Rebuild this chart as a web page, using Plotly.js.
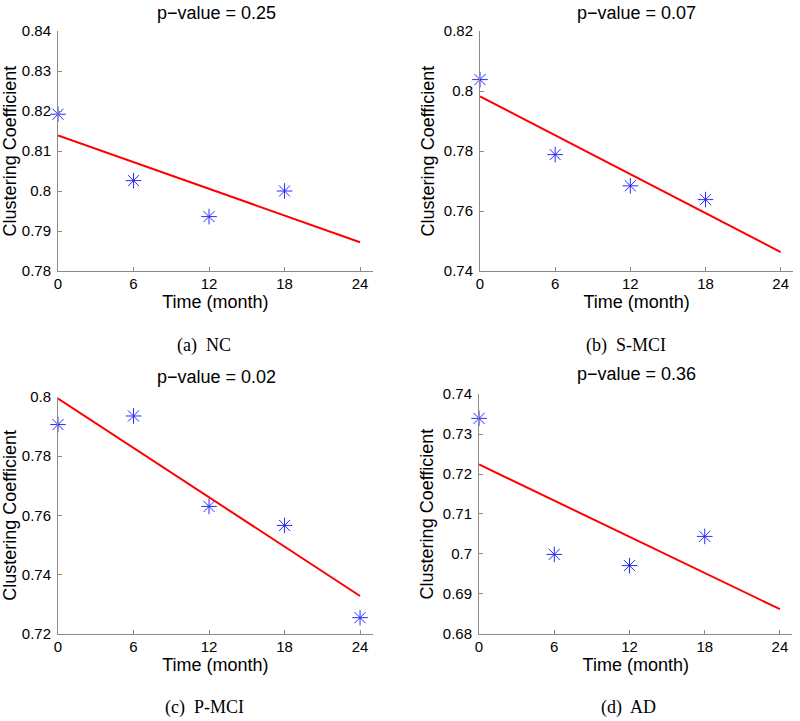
<!DOCTYPE html>
<html>
<head>
<meta charset="utf-8">
<script src="https://cdn.plot.ly/plotly-3.0.1.min.js"></script>
<style>html,body{margin:0;padding:0;background:#fff;}#chart{width:800px;height:721px;}</style>
</head>
<body>
<div id="chart"></div>
<script>
// ---- data ----
const monthsShort = [0, 6, 12, 18];
const monthsLong = [0, 6, 12, 18, 24];
const fitMonths = [0, 24];

const ncValues   = [0.8192, 0.8026, 0.7936, 0.8000];
const smciValues = [0.8038, 0.7788, 0.7684, 0.7638];
const pmciValues = [0.7906, 0.7935, 0.7630, 0.7566, 0.7255];
const adValues   = [0.7339, 0.6999, 0.6971, 0.7044];

const ncFit   = [0.8139, 0.7872];
const smciFit = [0.7982, 0.7463];
const pmciFit = [0.7994, 0.7328];
const adFit   = [0.7224, 0.6862];

const pValues = ["0.25", "0.07", "0.02", "0.36"];
const captions = ["(a)\u00a0 NC", "(b)\u00a0 S-MCI", "(c)\u00a0 P-MCI", "(d)\u00a0 AD"];

const xTickVals = [0, 6, 12, 18, 24];
const xTickText = ["0", "6", "12", "18", "24"];
const ncTicks   = [0.78, 0.79, 0.80, 0.81, 0.82, 0.83, 0.84];
const ncTickText = ["0.78", "0.79", "0.8", "0.81", "0.82", "0.83", "0.84"];
const smciTicks = [0.74, 0.76, 0.78, 0.80, 0.82];
const smciTickText = ["0.74", "0.76", "0.78", "0.8", "0.82"];
const pmciTicks = [0.72, 0.74, 0.76, 0.78, 0.80];
const pmciTickText = ["0.72", "0.74", "0.76", "0.78", "0.8"];
const adTicks   = [0.68, 0.69, 0.70, 0.71, 0.72, 0.73, 0.74];
const adTickText = ["0.68", "0.69", "0.7", "0.71", "0.72", "0.73", "0.74"];

const xLabel = "Time (month)";
const yLabel = "Clustering Coefficient";

// ---- build ----
const SANS = "Liberation Sans, Arial, sans-serif";
const SERIF = "Liberation Serif, Times New Roman, serif";

function pts(x, y, ax) {
  return {x: x, y: y, xaxis: 'x' + ax, yaxis: 'y' + ax, type: 'scatter', mode: 'markers',
    cliponaxis: false, showlegend: false,
    marker: {symbol: 'asterisk-open', size: 13, color: '#2a2aff', line: {width: 1, color: '#2a2aff'}}};
}
function fit(y, ax) {
  return {x: fitMonths, y: y, xaxis: 'x' + ax, yaxis: 'y' + ax, type: 'scatter', mode: 'lines',
    cliponaxis: false, showlegend: false, line: {color: '#ff0000', width: 2}};
}

const traces = [
  fit(ncFit, ''), pts(monthsShort, ncValues, ''),
  fit(smciFit, '2'), pts(monthsShort, smciValues, '2'),
  fit(pmciFit, '3'), pts(monthsLong, pmciValues, '3'),
  fit(adFit, '4'), pts(monthsShort, adValues, '4')
];

function xa(domain, anchor) {
  return {domain: domain, anchor: anchor, range: [0, 25], tickvals: xTickVals, ticktext: xTickText,
    showline: true, linecolor: '#8a8a8a', linewidth: 1, ticks: 'inside', ticklen: 4, tickcolor: '#8a8a8a',
    showgrid: false, zeroline: false, tickfont: {family: SANS, size: 15, color: '#000'},
    ticklabelstandoff: -1,
    title: {text: xLabel, font: {family: SANS, size: 18, color: '#000'}, standoff: 0}};
}
function ya(domain, anchor, range, tv, tt) {
  return {domain: domain, anchor: anchor, range: range, tickvals: tv, ticktext: tt,
    showline: true, linecolor: '#8a8a8a', linewidth: 1, ticks: 'inside', ticklen: 4, tickcolor: '#8a8a8a',
    showgrid: false, zeroline: false, tickfont: {family: SANS, size: 15, color: '#000'},
    ticklabelstandoff: 3,
    title: {text: yLabel, font: {family: SANS, size: 18, color: '#000'}, standoff: 4}};
}

function ann(text, x, y, font) {
  return {text: text, xref: 'paper', yref: 'paper', x: x / 800, y: (721 - y) / 721,
    xanchor: 'center', yanchor: 'middle', showarrow: false, font: font};
}
const titleFont = {family: SANS, size: 18, color: '#000'};
const capFont = {family: SERIF, size: 18, color: '#000'};

const layout = {
  width: 800, height: 721,
  margin: {l: 0, r: 0, t: 0, b: 0},
  paper_bgcolor: '#fff', plot_bgcolor: '#fff',
  showlegend: false,
  xaxis:  xa([0.0725, 0.4658], 'y'),
  xaxis2: xa([0.6, 0.9915], 'y2'),
  xaxis3: xa([0.0725, 0.4658], 'y3'),
  xaxis4: xa([0.5988, 0.9906], 'y4'),
  yaxis:  ya([0.6241, 0.957], 'x', [0.78, 0.84], ncTicks, ncTickText),
  yaxis2: ya([0.6241, 0.957], 'x2', [0.74, 0.82], smciTicks, smciTickText),
  yaxis3: ya([0.1207, 0.4498], 'x3', [0.72, 0.80], pmciTicks, pmciTickText),
  yaxis4: ya([0.1207, 0.4535], 'x4', [0.68, 0.74], adTicks, adTickText),
  annotations: [
    ann("p\u2212value = " + pValues[0], 216, 13, titleFont),
    ann("p\u2212value = " + pValues[1], 636, 13, titleFont),
    ann("p\u2212value = " + pValues[2], 216, 377, titleFont),
    ann("p\u2212value = " + pValues[3], 636, 374, titleFont),
    ann(captions[0], 204, 345, capFont),
    ann(captions[1], 626, 345, capFont),
    ann(captions[2], 204, 707, capFont),
    ann(captions[3], 628, 707, capFont)
  ]
};

Plotly.newPlot('chart', traces, layout, {displayModeBar: false, staticPlot: true});
</script>
</body>
</html>
